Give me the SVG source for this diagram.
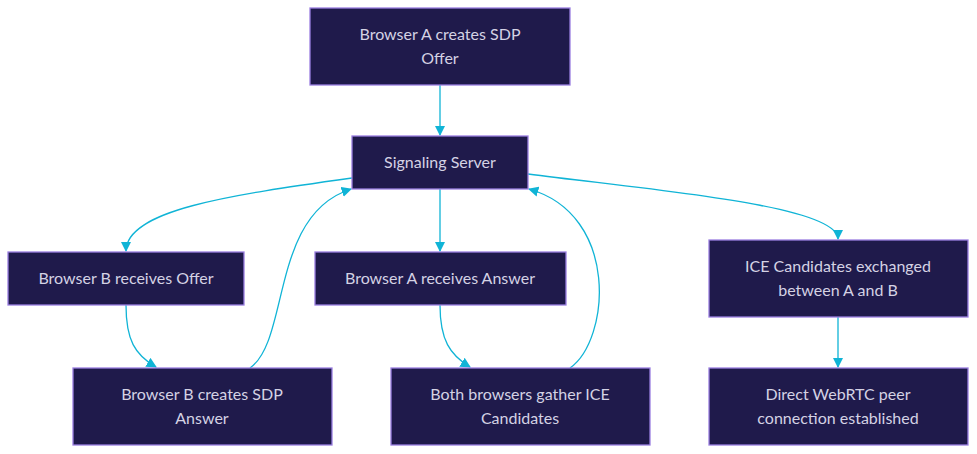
<svg xmlns="http://www.w3.org/2000/svg" width="977" height="454" viewBox="0 0 977 454">
<style>
.n rect{fill:#1f1a4b;stroke:#9a7ee0;stroke-width:1.3}
.n text{fill:#d4d2e4;font-family:Lato,"Noto Sans",sans-serif;font-size:16px;text-anchor:middle}
.e path{fill:none;stroke:#10b4d6;stroke-width:1.3;marker-end:url(#a)}
</style>
<defs><marker id="a" viewBox="0 0 10 10" refX="9" refY="5" markerWidth="8" markerHeight="8" orient="auto"><path d="M0 0L10 5L0 10z" fill="#10b4d6"/></marker></defs>
<rect width="977" height="454" fill="#fff"/>
<g class="e">
<path d="M440 85V135"/>
<path d="M352 178C230 195 126 210 126 251"/>
<path d="M440 189V251"/>
<path d="M528 174C650 190 838 205 838 239"/>
<path d="M126 305C126 340 135 355 156 367"/>
<path d="M250 368C290 340 270 215 351 189"/>
<path d="M440 305C440 340 450 355 470 367"/>
<path d="M570 368C610 340 620 215 529 189"/>
<path d="M838 317V367"/>
</g>
<g id="n1" class="n"><rect x="310" y="8" width="260" height="77"/><text x="440" y="40">Browser A creates SDP</text><text x="440" y="64">Offer</text></g>
<g id="n2" class="n"><rect x="352" y="136" width="176" height="53"/><text x="440" y="168">Signaling Server</text></g>
<g id="n3" class="n"><rect x="8" y="252" width="236" height="53"/><text x="126" y="284">Browser B receives Offer</text></g>
<g id="n4" class="n"><rect x="315" y="252" width="251" height="53"/><text x="440" y="284">Browser A receives Answer</text></g>
<g id="n5" class="n"><rect x="709" y="240" width="259" height="77"/><text x="838" y="272">ICE Candidates exchanged</text><text x="838" y="296">between A and B</text></g>
<g id="n6" class="n"><rect x="73" y="368" width="259" height="77"/><text x="202" y="400">Browser B creates SDP</text><text x="202" y="424">Answer</text></g>
<g id="n7" class="n"><rect x="391" y="368" width="259" height="77"/><text x="520" y="400">Both browsers gather ICE</text><text x="520" y="424">Candidates</text></g>
<g id="n8" class="n"><rect x="709" y="368" width="259" height="77"/><text x="838" y="400">Direct WebRTC peer</text><text x="838" y="424">connection established</text></g>
</svg>
